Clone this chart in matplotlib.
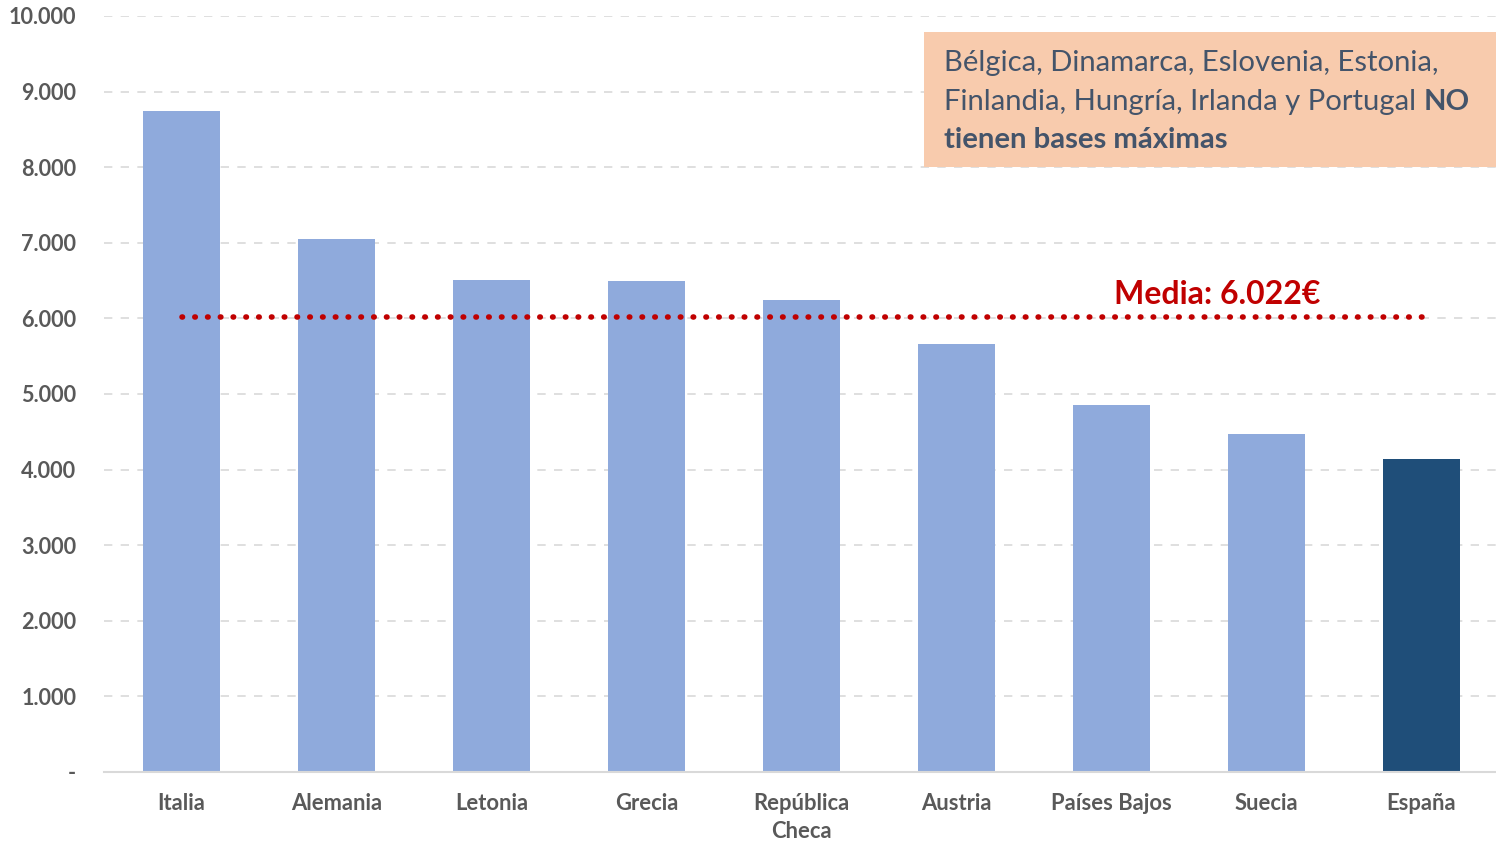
import matplotlib
matplotlib.use("Agg")
import matplotlib.pyplot as plt
from matplotlib.ticker import FuncFormatter
from matplotlib.patches import Rectangle

categories = ["Italia", "Alemania", "Letonia", "Grecia", "República\nCheca",
              "Austria", "Países Bajos", "Suecia", "España"]
values = [8745, 7050, 6508, 6495, 6243, 5661, 4854, 4471, 4140]
media = 6022
bar_colors = ["#8FAADC"] * 8 + ["#1F4E79"]

plt.rcParams['font.family'] = ['Lato', 'DejaVu Sans']

fig = plt.figure(figsize=(14.96, 8.42), dpi=100)
ax = fig.add_axes([104/1496, 1 - 772/842, 1395/1496, (772-16)/842])

x = list(range(len(categories)))
ax.bar(x, values, width=0.5, color=bar_colors, zorder=2)

ax.plot([x[0], x[-1]], [media, media], linestyle=(0, (0.1, 2.2)),
        color="#C00000", linewidth=4, dash_capstyle='round', zorder=3)
ax.text(6.68, media + 300, "Media: 6.022€", color="#C00000", fontsize=23,
        fontweight='bold', ha='center', va='center', zorder=4)

ax.set_xlim(-0.5, 8.5)
ax.set_ylim(0, 10000)
ax.set_yticks(range(0, 10001, 1000))

def fmt(v, pos):
    if v == 0:
        return "-"
    return f"{int(v):,}".replace(",", ".")
ax.yaxis.set_major_formatter(FuncFormatter(fmt))

ax.set_xticks(x)
ax.set_xticklabels(categories, fontsize=15.8, fontweight='bold', color="#595959",
                   linespacing=1.45, va='top')
for lbl in ax.get_yticklabels():
    lbl.set_fontsize(15.6)
    lbl.set_fontweight('bold')
    lbl.set_color("#595959")

ax.tick_params(axis='both', length=0)
ax.tick_params(axis='y', pad=20)
ax.tick_params(axis='x', pad=15)
ax.grid(axis='y', color="#D9D9D9", linestyle=(0, (5, 5)), linewidth=1.2, zorder=0)
for s in ["top", "right", "left"]:
    ax.spines[s].set_visible(False)
ax.spines["bottom"].set_color("#D9D9D9")
ax.spines["bottom"].set_linewidth(1.5)

# Note box
fig.patches.append(Rectangle((924/1496, 1 - 167/842), (1496-924)/1496, (167-32)/842,
                             transform=fig.transFigure, facecolor="#F8CBAD",
                             edgecolor="none", zorder=5))
tc = "#44546A"
fs = 21.1
fig.text(944/1496, 1 - 63/842, "Bélgica, Dinamarca, Eslovenia, Estonia,",
         fontsize=fs, color=tc, va='center', ha='left', zorder=6)
t2 = fig.text(944/1496, 1 - 102/842, "Finlandia, Hungría, Irlanda y Portugal ",
              fontsize=fs, color=tc, va='center', ha='left', zorder=6)
fig.canvas.draw()
bb = t2.get_window_extent()
fig.text(bb.x1/1496, 1 - 102/842, "NO", fontsize=fs, color=tc, va='center',
         ha='left', fontweight='bold', zorder=6)
fig.text(944/1496, 1 - 140/842, "tienen bases máximas", fontsize=fs, color=tc,
         va='center', ha='left', fontweight='bold', zorder=6)

fig.savefig("out.png", dpi=100)
